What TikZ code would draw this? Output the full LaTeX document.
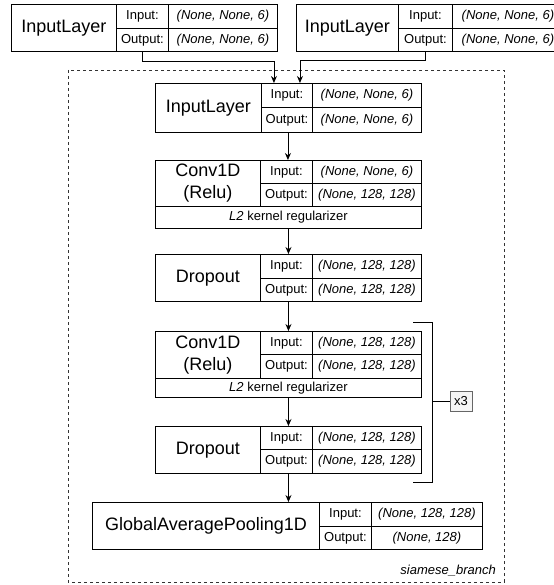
\documentclass[tikz,border=0pt]{standalone}
\usepackage{fontspec}
\setmainfont{Liberation Sans}
\usetikzlibrary{arrows.meta}
\begin{document}
\begin{tikzpicture}[x=1pt,y=-1pt,
  cellbase/.style={draw=black, line width=0.9pt, anchor=north west, inner sep=0pt, align=center},
  namecell/.style={cellbase, font=\fontsize{18}{22}\selectfont},
  lblcell/.style={cellbase, font=\fontsize{13}{15}\selectfont},
  valcell/.style={cellbase, font=\fontsize{13}{15}\selectfont\itshape},
  regcell/.style={cellbase, font=\fontsize{13}{15}\selectfont},
  arr/.style={line width=0.9pt, -{Stealth[length=7pt,width=6pt]}},
  plain/.style={line width=0.9pt},
  xbox/.style={draw=black!60, fill=black!4, line width=0.9pt, inner sep=0pt, minimum width=22pt, minimum height=20pt, font=\fontsize{13}{15}\selectfont},
  grouplbl/.style={font=\fontsize{13}{15}\selectfont\itshape, inner sep=0pt, anchor=east}
]
\useasboundingbox (0,0) rectangle (553,585);

% dashed group box
\draw[black!80, line width=0.9pt, dash pattern=on 3pt off 3pt] (68,70) rectangle (504,582);
\node[grouplbl] (glabel) at (496,571) {siamese\_branch};

% top-left InputLayer
\node[namecell, minimum width=105pt, minimum height=47pt] (tlname) at (11,4) {InputLayer};
\node[lblcell, minimum width=52pt, minimum height=24pt] (tlin) at (116,4) {Input:};
\node[lblcell, minimum width=52pt, minimum height=23pt] (tlout) at (116,28) {Output:};
\node[valcell, minimum width=109pt, minimum height=24pt] (tlinv) at (168,4) {(None, None, 6)};
\node[valcell, minimum width=109pt, minimum height=23pt] (tloutv) at (168,28) {(None, None, 6)};

% top-right InputLayer
\node[namecell, minimum width=102pt, minimum height=47pt] (trname) at (296,4) {InputLayer};
\node[lblcell, minimum width=54pt, minimum height=24pt] (trin) at (398,4) {Input:};
\node[lblcell, minimum width=54pt, minimum height=23pt] (trout) at (398,28) {Output:};
\node[valcell, minimum width=111pt, minimum height=24pt] (trinv) at (452,4) {(None, None, 6)};
\node[valcell, minimum width=111pt, minimum height=23pt] (troutv) at (452,28) {(None, None, 6)};

% inner InputLayer
\node[namecell, minimum width=106pt, minimum height=49pt] (ilname) at (155,83) {InputLayer};
\node[lblcell, minimum width=51pt, minimum height=24pt] (ilin) at (261,83) {Input:};
\node[lblcell, minimum width=51pt, minimum height=25pt] (ilout) at (261,107) {Output:};
\node[valcell, minimum width=109pt, minimum height=24pt] (ilinv) at (312,83) {(None, None, 6)};
\node[valcell, minimum width=109pt, minimum height=25pt] (iloutv) at (312,107) {(None, None, 6)};

% Conv1D 1
\node[namecell, minimum width=105pt, minimum height=46pt] (caname) at (155,160) {Conv1D\\(Relu)};
\node[lblcell, minimum width=52pt, minimum height=23pt] (cain) at (260,160) {Input:};
\node[lblcell, minimum width=52pt, minimum height=23pt] (caout) at (260,183) {Output:};
\node[valcell, minimum width=109pt, minimum height=23pt] (cainv) at (312,160) {(None, None, 6)};
\node[valcell, minimum width=109pt, minimum height=23pt] (caoutv) at (312,183) {(None, 128, 128)};
\node[regcell, minimum width=266pt, minimum height=22pt] (careg) at (155,206) {\textit{L2} kernel regularizer};

% Dropout 1
\node[namecell, minimum width=105pt, minimum height=47pt] (daname) at (155,254) {Dropout};
\node[lblcell, minimum width=52pt, minimum height=24pt] (dain) at (260,254) {Input:};
\node[lblcell, minimum width=52pt, minimum height=23pt] (daout) at (260,278) {Output:};
\node[valcell, minimum width=109pt, minimum height=24pt] (dainv) at (312,254) {(None, 128, 128)};
\node[valcell, minimum width=109pt, minimum height=23pt] (daoutv) at (312,278) {(None, 128, 128)};

% Conv1D 2
\node[namecell, minimum width=105pt, minimum height=47pt] (cbname) at (155,331) {Conv1D\\(Relu)};
\node[lblcell, minimum width=52pt, minimum height=23pt] (cbin) at (260,331) {Input:};
\node[lblcell, minimum width=52pt, minimum height=24pt] (cbout) at (260,354) {Output:};
\node[valcell, minimum width=109pt, minimum height=23pt] (cbinv) at (312,331) {(None, 128, 128)};
\node[valcell, minimum width=109pt, minimum height=24pt] (cboutv) at (312,354) {(None, 128, 128)};
\node[regcell, minimum width=266pt, minimum height=19pt] (cbreg) at (155,378) {\textit{L2} kernel regularizer};

% Dropout 2
\node[namecell, minimum width=105pt, minimum height=47pt] (dbname) at (155,426) {Dropout};
\node[lblcell, minimum width=52pt, minimum height=23pt] (dbin) at (260,426) {Input:};
\node[lblcell, minimum width=52pt, minimum height=24pt] (dbout) at (260,449) {Output:};
\node[valcell, minimum width=109pt, minimum height=23pt] (dbinv) at (312,426) {(None, 128, 128)};
\node[valcell, minimum width=109pt, minimum height=24pt] (dboutv) at (312,449) {(None, 128, 128)};

% GlobalAveragePooling1D
\node[namecell, minimum width=227pt, minimum height=47pt] (gpname) at (92,502) {GlobalAveragePooling1D};
\node[lblcell, minimum width=52pt, minimum height=24pt] (gpin) at (319,502) {Input:};
\node[lblcell, minimum width=52pt, minimum height=23pt] (gpout) at (319,526) {Output:};
\node[valcell, minimum width=111pt, minimum height=24pt] (gpinv) at (371,502) {(None, 128, 128)};
\node[valcell, minimum width=111pt, minimum height=23pt] (gpoutv) at (371,526) {(None, 128)};

% connectors
\draw[arr] (tlout.south) -- ++(0,10) -| ([xshift=-13pt]ilin.north);
\draw[arr] (trout.south) -- ++(0,9) -| ([xshift=13pt]ilin.north);
\draw[arr] ([xshift=1pt]ilout.south) -- ([xshift=1pt]ilout.south |- caname.north);
\draw[arr] (careg.south) -- (careg.south |- daname.north);
\draw[arr] ([xshift=2pt]daout.south) -- ([xshift=2pt]daout.south |- cbname.north);
\draw[arr] (cbreg.south) -- (cbreg.south |- dbname.north);
\draw[arr] ([xshift=2pt]dbout.south) -- ([xshift=2pt]dbout.south |- gpname.north);

% repeat bracket
\coordinate (brtop) at (413,322);
\coordinate (brbot) at (413,482);
\coordinate (brmid) at (432,401);
\draw[plain] (brtop) -- (432,322) -- (432,482) -- (brbot);
\node[xbox] (xthree) at (461,401) {x3};
\draw[plain] (brmid) -- (xthree.west);
\end{tikzpicture}
\end{document}
